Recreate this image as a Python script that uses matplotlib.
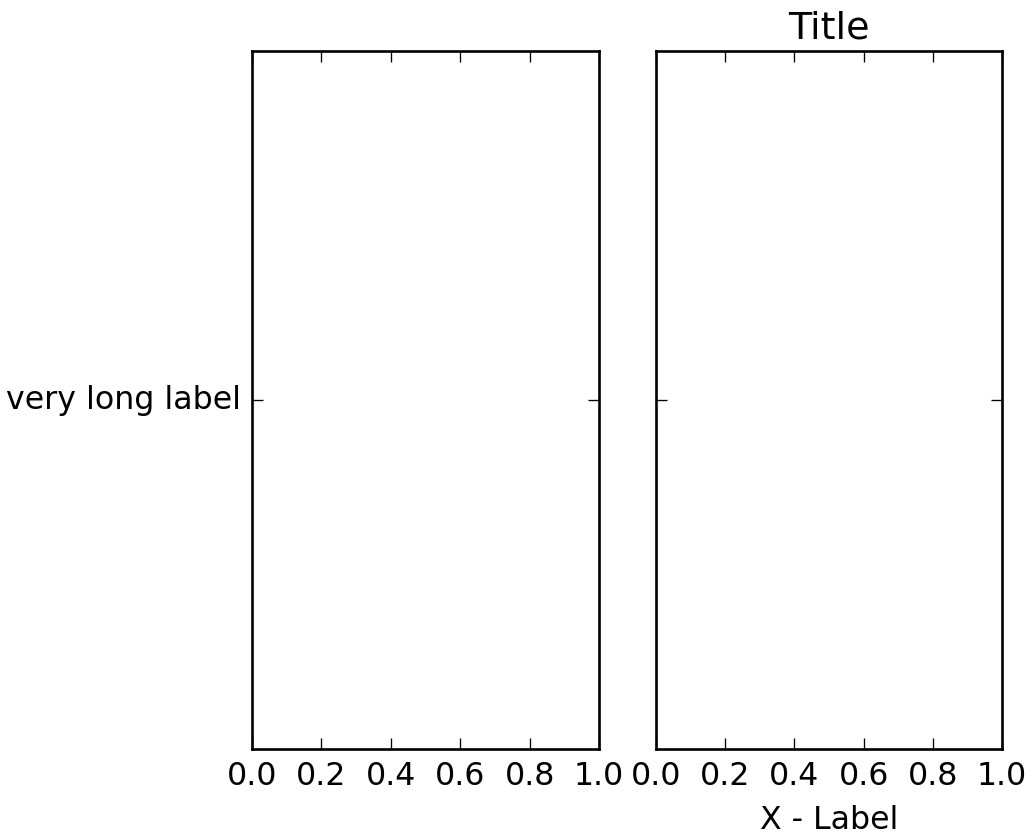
import matplotlib
matplotlib.use("Agg")
import matplotlib.pyplot as plt

plt.style.use('classic')

# tick data
x_ticks = [0.0, 0.2, 0.4, 0.6, 0.8, 1.0]
y_ticks = [0.5]
y_tick_labels = ['very long label']
title = 'Title'
x_label = 'X - Label'

dpi = 190
fig = plt.figure(figsize=(1033 / dpi, 835 / dpi), dpi=dpi, facecolor='white')

ax1 = fig.add_axes([252 / 1033, 85 / 835, 347 / 1033, 698 / 835])
ax2 = fig.add_axes([656 / 1033, 85 / 835, 346 / 1033, 698 / 835], sharey=ax1)

for ax in (ax1, ax2):
    ax.set_xlim(0, 1)
    ax.set_ylim(0, 1)
    ax.set_xticks(x_ticks)
    ax.set_yticks(y_ticks)

ax1.set_yticklabels(y_tick_labels)
ax2.tick_params(labelleft=False)

ax2.set_title(title)
ax2.set_xlabel(x_label)

fig.savefig('out.png', dpi=dpi, facecolor='white')
